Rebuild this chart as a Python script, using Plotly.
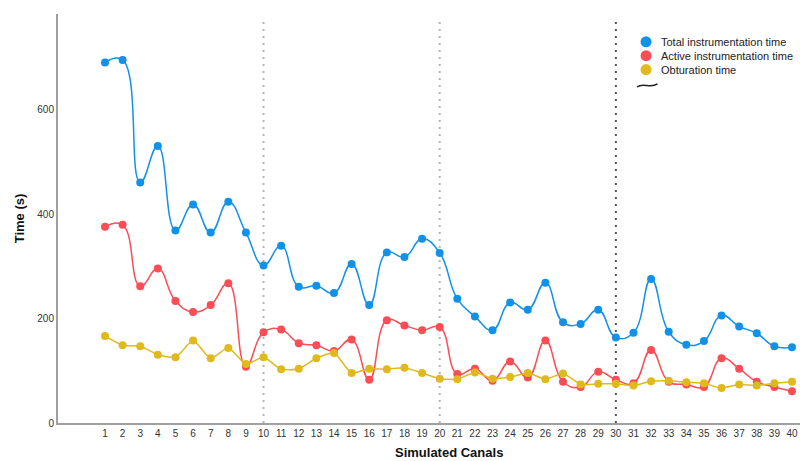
import plotly.graph_objects as go

canals = list(range(1, 41))
tick_labels = [str(c) for c in canals]

total_time = [691, 696, 461, 531, 369, 419, 365, 424, 365, 302,
              340, 261, 263, 249, 305, 226, 327, 318, 353, 326,
              238, 204, 178, 231, 217, 269, 193, 190, 217, 164,
              173, 276, 175, 150, 157, 206, 185, 172, 147, 145]
active_time = [376, 380, 262, 296, 234, 213, 226, 268, 108, 174,
               179, 153, 149, 138, 160, 83, 197, 187, 178, 184,
               94, 104, 81, 118, 87, 158, 79, 69, 98, 83,
               76, 140, 79, 74, 69, 124, 104, 79, 69, 61]
obturation_time = [167, 149, 147, 131, 126, 158, 124, 144, 113, 126,
                   103, 104, 124, 134, 96, 104, 103, 106, 96, 85,
                   84, 97, 85, 88, 96, 84, 95, 74, 75, 75,
                   72, 80, 81, 78, 76, 67, 74, 72, 76, 79]

series_names = ["Total instrumentation time", "Active instrumentation time", "Obturation time"]
series_values = [total_time, active_time, obturation_time]
colors = ["#1192e8", "#fa4d56", "#e0b91c"]
smoothing = [1.3, 1.3, 0.6]

ref_lines = [10, 20, 30]
ref_colors = ["#b4b4b4", "#b4b4b4", "#555555"]

fig = go.Figure()

for name, vals, col, sm in zip(series_names, series_values, colors, smoothing):
    fig.add_trace(go.Scatter(
        x=canals, y=vals, mode="lines+markers", name=name,
        line=dict(color=col, width=1.5, shape="spline", smoothing=sm),
        marker=dict(color=col, size=8),
        showlegend=False, hoverinfo="x+y+name",
    ))

for xv, col in zip(ref_lines, ref_colors):
    fig.add_shape(type="line", xref="x", yref="paper", x0=xv, x1=xv, y0=0, y1=0.992,
                  line=dict(color=col, width=2, dash="2px,5px"), layer="below")

# manual legend (paper coordinates of plot area 58..800 x 14..423)
legend_x = 0.7925
legend_text_x = 0.810
legend_ys = [0.932, 0.898, 0.864]
for name, col, ly in zip(series_names, colors, legend_ys):
    fig.add_shape(type="circle", xref="paper", yref="paper", xsizemode="pixel", ysizemode="pixel",
                  xanchor=legend_x, yanchor=ly, x0=-5.5, x1=5.5, y0=-5.5, y1=5.5,
                  fillcolor=col, line=dict(width=0))
    fig.add_annotation(x=legend_text_x, y=ly, xref="paper", yref="paper", text=name,
                       showarrow=False, xanchor="left", yanchor="middle",
                       font=dict(size=11, color="#222222"))

# small interpolation glyph below legend
fig.add_shape(type="path", xref="paper", yref="paper",
              path="M 0.7805,0.822 C 0.790,0.834 0.797,0.816 0.808,0.829",
              line=dict(color="#222222", width=1.5))

# x-axis title (offset to the right as in the reference)
fig.add_annotation(x=0.527, y=-0.071, xref="paper", yref="paper",
                   text="<b>Simulated Canals</b>", showarrow=False,
                   xanchor="center", yanchor="middle",
                   font=dict(size=13, color="#111111"))

fig.update_layout(
    width=800, height=461,
    margin=dict(l=58, r=0, t=14, b=38),
    paper_bgcolor="white", plot_bgcolor="white",
    font=dict(family="Liberation Sans, Arial, sans-serif", color="#333333", size=10),
    showlegend=False,
    xaxis=dict(
        range=[-1.668, 40.454], tickmode="array", tickvals=canals, ticktext=tick_labels,
        showgrid=False, zeroline=False, showline=True, linecolor="#a0a0a0", linewidth=2,
        ticks="", tickfont=dict(size=10, color="#333333"), automargin=False,
    ),
    yaxis=dict(
        range=[0, 784], tickvals=[0, 200, 400, 600],
        showgrid=False, zeroline=False, showline=True, linecolor="#a0a0a0", linewidth=2,
        ticks="", tickfont=dict(size=10, color="#333333"), automargin=False,
        title=dict(text="<b>Time (s)</b>", font=dict(size=13, color="#111111"), standoff=10),
    ),
)

fig.write_html("out.html")
